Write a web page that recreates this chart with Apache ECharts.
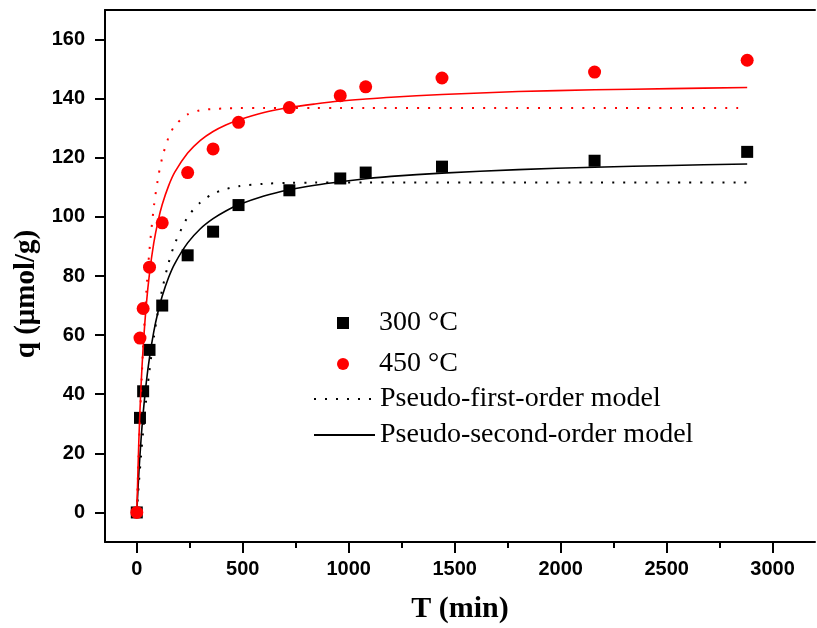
<!DOCTYPE html>
<html>
<head>
<meta charset="utf-8">
<script src="https://cdn.jsdelivr.net/npm/echarts@6/dist/echarts.min.js"></script>
<style>
  html, body { margin: 0; padding: 0; background: #fff; }
  #chart { width: 817px; height: 628px; }
</style>
</head>
<body>
<div id="chart"></div>
<script>
// Contact time (min) and measured uptake q (µmol/g)
const timeMin = [0, 15, 30, 60, 120, 240, 360, 480, 720, 960, 1080, 1440, 2160, 2880];
const q300 = [0, 32, 41, 55, 70, 87, 95, 104, 109, 113, 115, 117, 119, 122];
const q450 = [0, 59, 69, 83, 98, 115, 123, 132, 137, 141, 144, 147, 149, 153];

// Fitted kinetic model curves sampled along time
const fitTime = [0, 10, 20, 30, 45, 60, 80, 100, 120, 150, 180, 240, 300, 360, 420, 480,
                 600, 720, 840, 960, 1080, 1200, 1440, 1800, 2160, 2520, 2880];
const pfo300 = [0, 10.0, 19.1, 27.4, 38.5, 48.1, 59.0, 68.0, 75.5, 84.4, 91.0, 99.9, 104.9, 107.8, 109.4, 110.4,
                111.2, 111.5, 111.6, 111.6, 111.6, 111.6, 111.6, 111.6, 111.6, 111.6, 111.6];
const pso300 = [0, 13.7, 24.6, 33.5, 44.1, 52.4, 61.1, 67.8, 73.2, 79.5, 84.3, 91.2, 96.0, 99.4, 102.0, 104.1,
                107.1, 109.2, 110.7, 111.9, 112.9, 113.7, 114.8, 116.0, 116.8, 117.4, 117.9];
const pfo450 = [0, 22.0, 40.4, 55.9, 74.6, 88.9, 103.1, 113.0, 120.0, 126.9, 130.9, 134.7, 136.1, 136.5, 136.7, 136.8,
                136.8, 136.8, 136.8, 136.8, 136.8, 136.8, 136.8, 136.8, 136.8, 136.8, 136.8];
const pso450 = [0, 25.0, 42.7, 55.9, 70.4, 80.9, 91.1, 98.5, 104.2, 110.5, 115.2, 121.6, 125.9, 128.9, 131.1, 132.8,
                135.3, 137.0, 138.2, 139.2, 139.9, 140.5, 141.4, 142.4, 143.0, 143.4, 143.8];

// Axis tick positions
const xMajorTicks = [0, 500, 1000, 1500, 2000, 2500, 3000];
const xMinorTicks = [250, 750, 1250, 1750, 2250, 2750];
const yTicks = [0, 20, 40, 60, 80, 100, 120, 140, 160];

const pairs = (xs, ys) => xs.map((x, i) => [x, ys[i]]);
const plain = (v) => String(v);

const sansBold = { fontFamily: 'Arial, "Liberation Sans", sans-serif', fontWeight: 'bold', fontSize: 20, color: '#000' };
const serif = '"Times New Roman", "Liberation Serif", serif';
const axisLineStyle = { color: '#000', width: 2 };

const chart = echarts.init(document.getElementById('chart'), null, { renderer: 'canvas' });

const dotted = (color) => ({ color: color, width: 2, type: [2, 9] });
const solid = (color) => ({ color: color, width: 1.6, type: 'solid' });

chart.setOption({
  animation: false,
  backgroundColor: '#fff',
  grid: { left: 105, right: 2, top: 10, bottom: 86, containLabel: false, outerBoundsMode: 'none' },
  xAxis: [
    {
      type: 'value', min: -150, max: 3200, position: 'bottom',
      name: 'T (min)', nameLocation: 'middle', nameGap: 52,
      nameTextStyle: { fontFamily: serif, fontWeight: 'bold', fontSize: 30, color: '#000' },
      axisLine: { show: true, onZero: false, lineStyle: axisLineStyle },
      axisTick: { show: true, inside: false, length: 11, lineStyle: axisLineStyle, customValues: xMajorTicks },
      axisLabel: Object.assign({ margin: 17, customValues: xMajorTicks, formatter: plain }, sansBold),
      splitLine: { show: false }
    },
    {
      type: 'value', min: -150, max: 3200, position: 'top',
      axisLine: { show: true, onZero: false, lineStyle: axisLineStyle },
      axisTick: { show: false }, axisLabel: { show: false }, splitLine: { show: false }
    },
    {
      type: 'value', min: -150, max: 3200, position: 'bottom',
      axisLine: { show: false, onZero: false },
      axisTick: { show: true, inside: false, length: 6, lineStyle: axisLineStyle, customValues: xMinorTicks },
      axisLabel: { show: false }, splitLine: { show: false }
    }
  ],
  yAxis: {
    type: 'value', min: -10, max: 170,
    name: 'q (μmol/g)', nameLocation: 'middle', nameGap: 64, nameRotate: 90,
    nameTextStyle: { fontFamily: serif, fontWeight: 'bold', fontSize: 29, color: '#000', padding: [0, 36, 0, 0] },
    axisLine: { show: true, onZero: false, lineStyle: axisLineStyle },
    axisTick: { show: true, inside: false, length: 10, lineStyle: axisLineStyle, customValues: yTicks },
    axisLabel: Object.assign({ margin: 20, customValues: yTicks, formatter: plain }, sansBold),
    splitLine: { show: false }
  },
  legend: [
    {
      // marker entries: small square / circle with text aligned to the line entries below
      orient: 'vertical', left: 337, top: 309, padding: 0,
      itemWidth: 12, itemHeight: 12, itemGap: 13, selectedMode: false,
      textStyle: { fontFamily: serif, fontSize: 28, color: '#000', padding: [0, 0, 0, 25] },
      data: [
        { name: '300 °C', icon: 'rect', itemStyle: { opacity: 1 } },
        { name: '450 °C', icon: 'circle', itemStyle: { opacity: 1 } }
      ]
    },
    {
      orient: 'vertical', left: 313, top: 385, padding: 0,
      itemWidth: 61, itemHeight: 12, itemGap: 8, selectedMode: false,
      textStyle: { fontFamily: serif, fontSize: 28, color: '#000' },
      data: [
        { name: 'Pseudo-first-order model', itemStyle: { opacity: 0 } },
        { name: 'Pseudo-second-order model', itemStyle: { opacity: 0 } }
      ]
    }
  ],
  series: [
    {
      name: '300 °C', type: 'scatter', symbol: 'rect', symbolSize: 12,
      itemStyle: { color: '#000', opacity: 1 }, data: pairs(timeMin, q300), z: 3
    },
    {
      name: 'Pseudo-first-order model', type: 'line', symbol: 'none', showSymbol: false,
      smooth: 0.3, lineStyle: dotted('#000'), itemStyle: { color: '#000' },
      data: pairs(fitTime, pfo300), z: 2
    },
    {
      name: 'Pseudo-second-order model', type: 'line', symbol: 'none', showSymbol: false,
      smooth: 0.3, lineStyle: solid('#000'), itemStyle: { color: '#000' },
      data: pairs(fitTime, pso300), z: 2
    },
    {
      name: '450 °C', type: 'scatter', symbol: 'circle', symbolSize: 13,
      itemStyle: { color: '#ff0000', opacity: 1 }, data: pairs(timeMin, q450), z: 4
    },
    {
      name: 'PFO fit 450 °C', type: 'line', symbol: 'none', showSymbol: false,
      smooth: 0.3, lineStyle: dotted('#ff0000'), itemStyle: { color: '#ff0000' },
      data: pairs(fitTime, pfo450), z: 5
    },
    {
      name: 'PSO fit 450 °C', type: 'line', symbol: 'none', showSymbol: false,
      smooth: 0.3, lineStyle: solid('#ff0000'), itemStyle: { color: '#ff0000' },
      data: pairs(fitTime, pso450), z: 5
    }
  ]
});
</script>
</body>
</html>
